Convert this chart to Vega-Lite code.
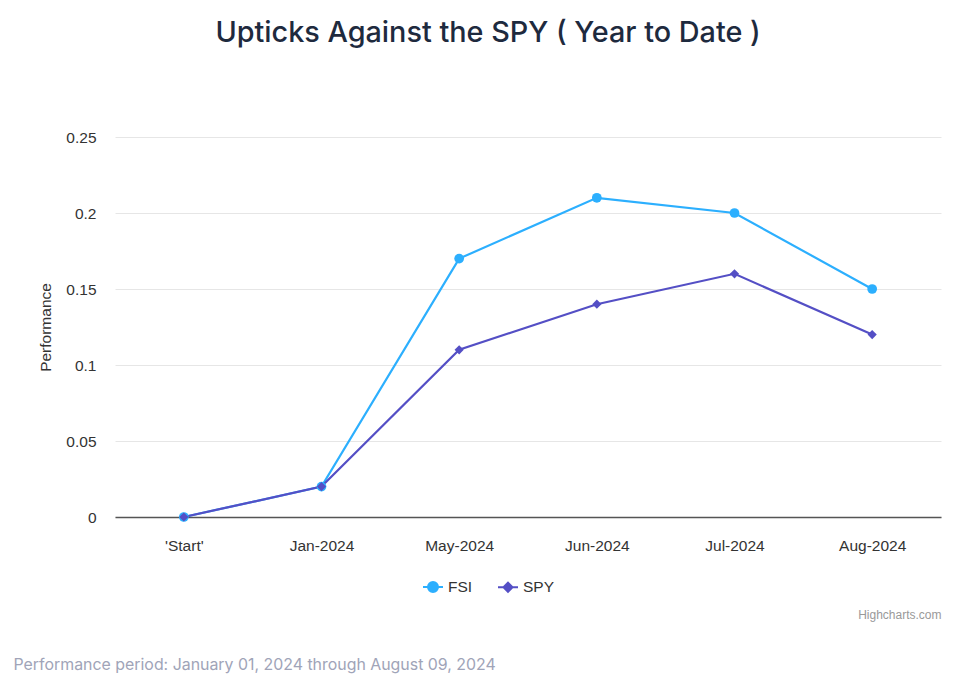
{
  "$schema": "https://vega.github.io/schema/vega-lite/v6.json",
  "width": 826,
  "height": 380,
  "autosize": {"type": "none"},
  "padding": {"left": 115, "top": 137, "right": 29, "bottom": 169},
  "background": "#ffffff",
  "title": {
    "text": "Upticks Against the SPY ( Year to Date )",
    "font": "Inter",
    "fontSize": 28.8,
    "fontWeight": 500,
    "color": "#1e2a3e",
    "anchor": "middle",
    "dx": -40,
    "offset": 82
  },
  "data": {
    "values": [
      {"period": "'Start'", "series": "FSI", "value": 0},
      {"period": "Jan-2024", "series": "FSI", "value": 0.02},
      {"period": "May-2024", "series": "FSI", "value": 0.17},
      {"period": "Jun-2024", "series": "FSI", "value": 0.21},
      {"period": "Jul-2024", "series": "FSI", "value": 0.20},
      {"period": "Aug-2024", "series": "FSI", "value": 0.15},
      {"period": "'Start'", "series": "SPY", "value": 0},
      {"period": "Jan-2024", "series": "SPY", "value": 0.02},
      {"period": "May-2024", "series": "SPY", "value": 0.11},
      {"period": "Jun-2024", "series": "SPY", "value": 0.14},
      {"period": "Jul-2024", "series": "SPY", "value": 0.16},
      {"period": "Aug-2024", "series": "SPY", "value": 0.12}
    ]
  },
  "encoding": {
    "x": {
      "field": "period",
      "type": "ordinal",
      "sort": ["'Start'", "Jan-2024", "May-2024", "Jun-2024", "Jul-2024", "Aug-2024"],
      "scale": {"padding": 0.5},
      "axis": {
        "title": "Performance period: January 01, 2024 through August 09, 2024",
        "titleFont": "Inter",
        "titleFontSize": 15.9,
        "titleFontWeight": "normal",
        "titleColor": "#a0a4b8",
        "titleAlign": "left",
        "titleBaseline": "alphabetic",
        "titleX": -102,
        "titleY": 152,
        "labelAngle": 0,
        "labelFont": "Liberation Sans",
        "labelFontSize": 15.5,
        "labelColor": "#333333",
        "labelBaseline": "alphabetic",
        "labelPadding": 33,
        "ticks": false,
        "tickSize": 0,
        "domain": true,
        "domainColor": "#555555",
        "domainWidth": 1.5,
        "grid": false
      }
    },
    "y": {
      "field": "value",
      "type": "quantitative",
      "scale": {"domain": [0, 0.25], "nice": false},
      "axis": {
        "title": "Performance",
        "titleFont": "Liberation Sans",
        "titleFontSize": 15.5,
        "titleFontWeight": "normal",
        "titleColor": "#333333",
        "titlePadding": 12,
        "values": [0, 0.05, 0.1, 0.15, 0.2, 0.25],
        "format": "~g",
        "labelFont": "Liberation Sans",
        "labelFontSize": 15.5,
        "labelColor": "#333333",
        "labelPadding": 19,
        "ticks": false,
        "tickSize": 0,
        "domain": false,
        "grid": true,
        "gridColor": "#e6e6e6",
        "gridWidth": 1
      }
    }
  },
  "layer": [
    {
      "mark": {"type": "line", "strokeWidth": 2.2},
      "encoding": {
        "color": {
          "field": "series",
          "type": "nominal",
          "scale": {"domain": ["FSI", "SPY"], "range": ["#2caffe", "#544fc5"]},
          "legend": {
            "title": null,
            "orient": "none",
            "direction": "horizontal",
            "legendX": 307,
            "legendY": 439,
            "labelFont": "Liberation Sans",
            "labelFontSize": 15.5,
            "labelColor": "#333333",
            "symbolSize": 400,
            "symbolStrokeWidth": 2,
            "columnPadding": 21,
            "labelOffset": 4,
            "encode": {
              "symbols": {
                "update": {
                  "shape": {"signal": "datum.value === 'FSI' ? 'M-1,0L1,0M0.5,0A0.5,0.5 0 1,1 -0.5,0A0.5,0.5 0 1,1 0.5,0Z' : 'M-1,0L1,0M0,-0.45L0.45,0L0,0.45L-0.45,0Z'"},
                  "fill": {"signal": "datum.value === 'FSI' ? '#2caffe' : '#544fc5'"},
                  "stroke": {"signal": "datum.value === 'FSI' ? '#2caffe' : '#544fc5'"},
                  "strokeWidth": {"value": 2}
                }
              }
            }
          }
        }
      }
    },
    {
      "transform": [{"filter": "datum.series === 'FSI'"}],
      "mark": {"type": "point", "filled": true, "opacity": 1, "shape": "circle", "size": 95},
      "encoding": {
        "color": {"field": "series", "type": "nominal", "legend": null},
        "y": {
          "field": "value",
          "type": "quantitative",
          "axis": {
            "orient": "right",
            "title": "Highcharts.com",
            "titleAngle": 0,
            "titleFont": "Liberation Sans",
            "titleFontSize": 12,
            "titleFontWeight": "normal",
            "titleColor": "#999999",
            "titleAlign": "right",
            "titleBaseline": "alphabetic",
            "titleX": 0,
            "titleY": 481,
            "labels": false,
            "ticks": false,
            "domain": false,
            "grid": false
          }
        }
      }
    },
    {
      "transform": [{"filter": "datum.series === 'SPY'"}],
      "mark": {"type": "point", "filled": true, "opacity": 1, "shape": "diamond", "size": 85},
      "encoding": {
        "color": {"field": "series", "type": "nominal", "legend": null},
        "y": {"field": "value", "type": "quantitative", "axis": null}
      }
    }
  ],
  "resolve": {"axis": {"y": "independent"}},
  "config": {"view": {"stroke": null}}
}
